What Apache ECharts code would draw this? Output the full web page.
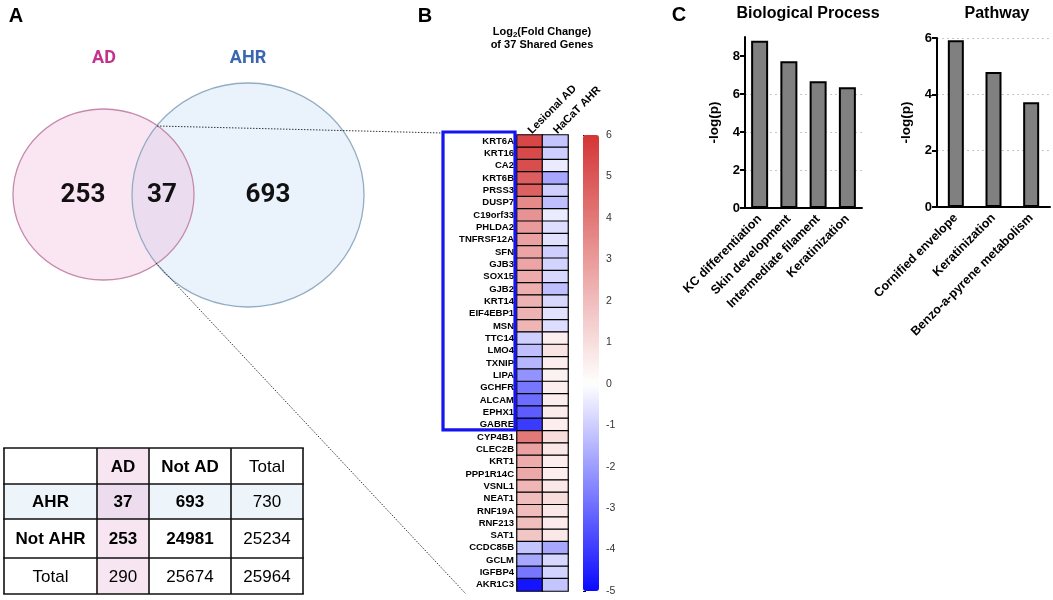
<!DOCTYPE html>
<html><head><meta charset="utf-8">
<script src="https://cdn.jsdelivr.net/npm/echarts@6/dist/echarts.min.js"></script>
<style>html,body{margin:0;padding:0;background:#fff}#c{width:1053px;height:600px}</style>
</head><body><div id="c"></div>
<script>
// ---------------- DATA ----------------
const genes = ['KRT6A','KRT16','CA2','KRT6B','PRSS3','DUSP7','C19orf33','PHLDA2','TNFRSF12A','SFN','GJB3','SOX15','GJB2','KRT14','EIF4EBP1','MSN','TTC14','LMO4','TXNIP','LIPA','GCHFR','ALCAM','EPHX1','GABRE','CYP4B1','CLEC2B','KRT1','PPP1R14C','VSNL1','NEAT1','RNF19A','RNF213','SAT1','CCDC85B','GCLM','IGFBP4','AKR1C3'];
const lesionalAD = [5.5,5.4,5.3,4.8,4.7,3.5,3.2,3.0,2.8,2.7,2.7,2.5,2.4,2.3,2.3,2.2,-1.0,-1.3,-1.5,-2.2,-2.8,-3.0,-3.3,-4.0,4.0,2.8,2.5,2.6,2.2,2.0,2.0,1.9,1.7,-1.2,-1.8,-2.8,-4.8];
const hacatAHR = [-1.2,-1.0,-0.4,-1.8,-1.0,-1.3,-0.4,-0.7,-0.6,-1.0,-0.9,-0.8,-1.3,-0.8,-0.6,-0.7,0.5,0.8,0.5,0.4,0.5,0.5,0.6,0.5,1.0,0.7,0.5,0.5,0.7,1.0,0.7,0.6,0.7,-1.8,-0.8,-0.9,-1.2];
const heatCols = ['Lesional AD','HaCaT AHR'];
const boxedGeneCount = 24; // KRT6A ... GABRE
const colorMin = -5, colorMax = 6;

const bpCats = ['KC differentiation','Skin development','Intermediate filament','Keratinization'];
const bpVals = [8.8,7.72,6.67,6.35];
const bpTicks = [0,2,4,6,8];
const pwCats = ['Cornified envelope','Keratinization','Benzo-a-pyrene metabolism'];
const pwVals = [5.92,4.79,3.72];

const vennSets = ['AD','AHR'];
const vennCounts = [253,37,693]; // AD only, shared, AHR only
const tableHeader = ['','AD','Not AD','Total'];
const tableRows = [['AHR',37,693,730],['Not AHR',253,24981,25234],['Total',290,25674,25964]];

// ---------------- LAYOUT ----------------
const FONT = '"Liberation Sans", Arial, sans-serif';
const heat = {left:517, top:135, width:51, height:456};
const cbar = {left:583, top:135, width:16, height:456};
const bp = {left:745, top:37, width:117, height:171};
const pw = {left:937, top:38, width:113, height:169};

function mix(a,b,t){return 'rgb('+a.map((v,i)=>Math.round(v+(b[i]-v)*t)).join(',')+')';}
const WHITE=[255,255,255], RED=[212,53,53], BLUE=[10,10,255];
const ramp=[];
for(let v=colorMin; v<=colorMax; v++){
  ramp.push(v<0? mix(WHITE,BLUE,-v/(-colorMin)) : mix(WHITE,RED,v/colorMax));
}

const heatData=[];
genes.forEach((g,i)=>{heatData.push([0,i,lesionalAD[i]]);heatData.push([1,i,hacatAHR[i]]);});

const chart = echarts.init(document.getElementById('c'), null, {renderer:'canvas'});

// ---------------- GRAPHICS ----------------
const g=[];
function txt(x,y,s,opt,extra){g.push(Object.assign({type:'text',x:x,y:y,z:10,style:Object.assign({text:String(s),fill:'#000',font:'bold 16px '+FONT,textAlign:'center',textVerticalAlign:'middle'},opt||{})},extra||{}));}
txt(16,16,'A',{font:'bold 20px '+FONT});
txt(425,16,'B',{font:'bold 20px '+FONT});
txt(679,15,'C',{font:'bold 20px '+FONT});
// venn
const adC={cx:103.5,cy:194.5,rx:90.5,ry:85.5}, ahrC={cx:248,cy:195,rx:116,ry:112};
g.push({type:'ellipse',shape:ahrC,style:{fill:'#eaf3fb',stroke:null},z:1});
g.push({type:'ellipse',shape:adC,style:{fill:'rgba(240,170,215,0.3)',stroke:null},z:2});
g.push({type:'ellipse',shape:ahrC,style:{fill:null,stroke:'#93adc4',lineWidth:1.3},z:3});
g.push({type:'ellipse',shape:adC,style:{fill:null,stroke:'#c68aab',lineWidth:1.3},z:3});
txt(104,58,vennSets[0],{fill:'#c3338c',font:'bold 18px Roboto, '+FONT});
txt(248,58,vennSets[1],{fill:'#3b67ae',font:'bold 18px Roboto, '+FONT});
txt(83,195,vennCounts[0],{fill:'#111',font:'bold 26px Roboto, '+FONT});
txt(162,195,vennCounts[1],{fill:'#111',font:'bold 26px Roboto, '+FONT});
txt(268,195,vennCounts[2],{fill:'#111',font:'bold 26px Roboto, '+FONT});
// heatmap title
g.push({type:'text',x:542,y:32,z:10,style:{rich:{b:{font:'bold 11px '+FONT,fill:'#000'},s:{font:'bold 8px '+FONT,fill:'#000',padding:[6,0,0,0]}},text:'{b|Log}{s|2}{b|(Fold Change)}',textAlign:'center',textVerticalAlign:'middle'}});
txt(542,45,'of 37 Shared Genes',{font:'bold 11px '+FONT});
// blue box
const rowH = heat.height/genes.length;
const boxTop=132, boxBottom = heat.top + boxedGeneCount*rowH - 1;
g.push({type:'rect',shape:{x:443,y:boxTop,width:72,height:boxBottom-boxTop},style:{fill:null,stroke:'#1414ee',lineWidth:3.2},z:6});
// dotted zoom lines
g.push({type:'line',shape:{x1:157,y1:126,x2:443,y2:133},style:{stroke:'#333',lineWidth:1,lineDash:[1.5,1.5]},z:4});
g.push({type:'line',shape:{x1:156,y1:263,x2:466,y2:594},style:{stroke:'#333',lineWidth:1,lineDash:[1.5,1.5]},z:4});
// table
const tx=[4,97,149,231,303], ty=[448,484,519,558,594];
for(let r=0;r<4;r++)for(let c=0;c<4;c++){
  let fill='#ffffff';
  if(c===1) fill='#f8e5f2';
  if(r===1) fill='#edf4fa';
  if(r===1&&c===1) fill='#ecdcee';
  g.push({type:'rect',shape:{x:tx[c],y:ty[r],width:tx[c+1]-tx[c],height:ty[r+1]-ty[r]},style:{fill:fill,stroke:null},z:1});
}
for(let i=0;i<tx.length;i++) g.push({type:'line',shape:{x1:tx[i],y1:ty[0],x2:tx[i],y2:ty[4]},style:{stroke:'#111',lineWidth:1.6},z:3});
for(let i=0;i<ty.length;i++) g.push({type:'line',shape:{x1:tx[0]-0.8,y1:ty[i],x2:tx[4]+0.8,y2:ty[i]},style:{stroke:'#111',lineWidth:1.6},z:3});
const allRows=[tableHeader].concat(tableRows);
allRows.forEach((row,r)=>row.forEach((v,c)=>{
  if(v==='')return;
  let bold = r===0 ? (c===1||c===2) : (r<3 && c<3);
  txt((tx[c]+tx[c+1])/2,(ty[r]+ty[r+1])/2+1,v,{font:(bold?'bold ':'')+'17px '+FONT,fill:'#000'});
}));

// ---------------- OPTION ----------------
const axisBlack={lineStyle:{color:'#000',width:2}};
const option={
  animation:false,
  textStyle:{fontFamily:FONT},
  grid:[heat,cbar,bp,pw].map(o=>Object.assign({containLabel:false},o)),
  title:[
    {text:'Biological Process',left:803,top:1,textAlign:'center',textStyle:{fontSize:16,fontWeight:'bold',color:'#000',fontFamily:FONT}},
    {text:'Pathway',left:992,top:1,textAlign:'center',textStyle:{fontSize:16,fontWeight:'bold',color:'#000',fontFamily:FONT}}
  ],
  xAxis:[
    {type:'category',gridIndex:0,data:heatCols,position:'top',axisLine:{show:false},
     axisTick:{alignWithLabel:true,length:6,lineStyle:{color:'#000',width:1.3}},
     axisLabel:{rotate:-45,fontSize:11,fontWeight:'bold',color:'#000',margin:3,interval:0},splitLine:{show:false}},
    {type:'value',gridIndex:1,show:false},
    {type:'category',gridIndex:2,data:bpCats,axisLine:axisBlack,
     axisTick:{alignWithLabel:true,length:6,lineStyle:{color:'#000',width:2}},
     axisLabel:{rotate:45,fontSize:12.5,fontWeight:'bold',color:'#000',margin:9,interval:0}},
    {type:'category',gridIndex:3,data:pwCats,axisLine:axisBlack,
     axisTick:{alignWithLabel:true,length:6,lineStyle:{color:'#000',width:2}},
     axisLabel:{rotate:45,fontSize:12.5,fontWeight:'bold',color:'#000',margin:9,interval:0}}
  ],
  yAxis:[
    {type:'category',gridIndex:0,data:genes,inverse:true,axisLine:{show:false},
     axisTick:{alignWithLabel:true,length:5,lineStyle:{color:'#000',width:1.3}},
     axisLabel:{fontSize:9.5,fontWeight:'bold',color:'#000',margin:3,interval:0},splitLine:{show:false}},
    {type:'value',gridIndex:1,min:colorMin,max:colorMax,interval:1,position:'right',
     axisLine:{show:false},axisTick:{show:true,length:3,lineStyle:{color:'#000',width:1}},
     axisLabel:{fontSize:10.5,color:'#333',margin:7},splitLine:{show:false}},
    {type:'value',gridIndex:2,min:0,max:9,interval:1,axisLine:Object.assign({show:true},axisBlack),
     axisTick:{show:true,length:5,lineStyle:{color:'#000',width:2},customValues:bpTicks},
     axisLabel:{fontSize:13,fontWeight:'bold',color:'#000',margin:5,customValues:bpTicks},
     splitLine:{show:true,showMinLine:false,showMaxLine:false,lineStyle:{color:'#c8c8c8',type:[2,3],width:1}},
     name:'-log(p)',nameLocation:'middle',nameGap:24,nameTextStyle:{fontSize:13.5,fontWeight:'bold',color:'#000'}},
    {type:'value',gridIndex:3,min:0,max:6,interval:2,axisLine:Object.assign({show:true},axisBlack),
     axisTick:{show:true,length:5,lineStyle:{color:'#000',width:2}},
     axisLabel:{fontSize:13,fontWeight:'bold',color:'#000',margin:5},
     splitLine:{show:true,showMinLine:false,lineStyle:{color:'#c8c8c8',type:[2,3],width:1}},
     name:'-log(p)',nameLocation:'middle',nameGap:24,nameTextStyle:{fontSize:13.5,fontWeight:'bold',color:'#000'}}
  ],
  visualMap:{type:'continuous',seriesIndex:0,min:colorMin,max:colorMax,calculable:false,show:true,
    left:cbar.left,top:cbar.top,itemWidth:cbar.width,itemHeight:cbar.height,padding:0,text:null,
    showLabel:false,inRange:{color:ramp},hoverLink:false},
  series:[
    {type:'heatmap',xAxisIndex:0,yAxisIndex:0,data:heatData,itemStyle:{borderColor:'#000',borderWidth:1.2},emphasis:{disabled:true}},
    {type:'bar',xAxisIndex:2,yAxisIndex:2,data:bpVals,barWidth:17,itemStyle:{color:'#808080',borderColor:'#000',borderWidth:2}},
    {type:'bar',xAxisIndex:3,yAxisIndex:3,data:pwVals,barWidth:16,itemStyle:{color:'#808080',borderColor:'#000',borderWidth:2}}
  ],
  graphic:g
};
chart.setOption(option);
</script></body></html>
